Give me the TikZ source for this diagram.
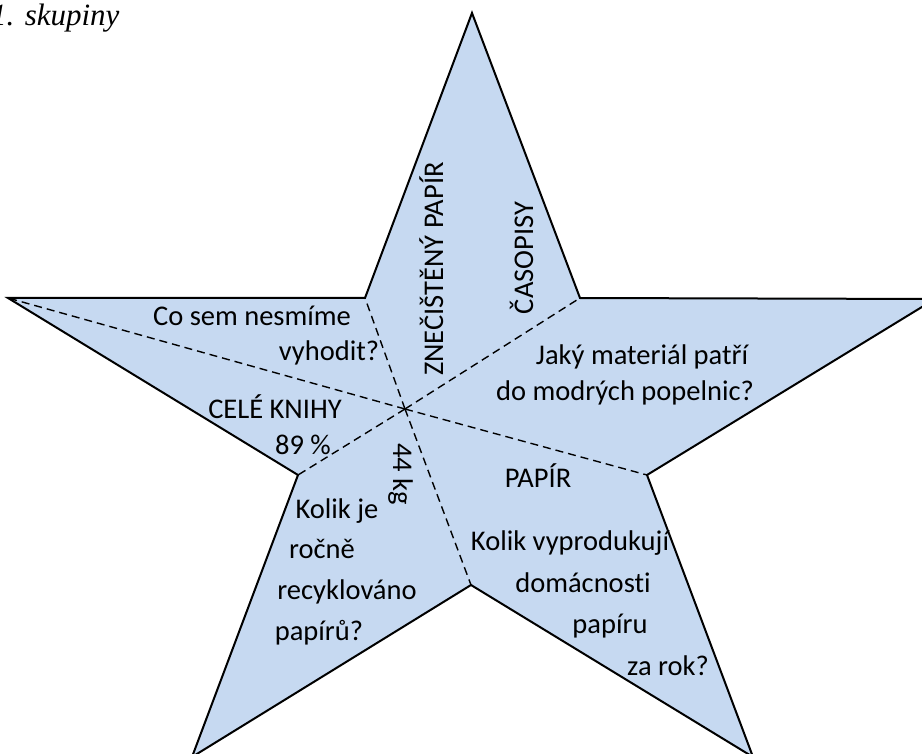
\documentclass[tikz,border=0pt]{standalone}
\usepackage{fontspec}
\setmainfont{Carlito}[Ligatures=NoCommon]
\newfontfamily\titlefont{Liberation Serif}
\usepackage{tikz}
\usepackage{xcolor}
\definecolor{starblue}{HTML}{C6D9F1}
\tikzset{
    star-shape/.style = {draw=black, fill=starblue, line width=2pt},
    star-cut/.style = {draw=black, line width=1.4pt, dash pattern=on 8pt off 5pt},
    star-text/.style = {font=\fontsize{28.5}{30}\selectfont, inner sep=0pt, anchor=base},
    title-text/.style = {font=\titlefont\itshape\fontsize{31}{33}\selectfont, inner sep=0pt, anchor=base west},
}

\begin{document}
\begin{tikzpicture}[x=1pt, y=-1pt]
\useasboundingbox (0,0) rectangle (922,754);
\begin{scope}
\clip (0,0) rectangle (922,754);
% corners of the star
\coordinate (top) at (472,13);
\coordinate (in-ne) at (580,298);
\coordinate (right) at (935,299);
\coordinate (in-e) at (647,475);
\coordinate (low-right) at (753,757);
\coordinate (in-s) at (471,585);
\coordinate (low-left) at (192,757);
\coordinate (in-w) at (298,475);
\coordinate (left) at (8,298);
\coordinate (in-nw) at (365,298);
\coordinate (mid) at (405,409);
\draw[star-shape] (top) -- (in-ne) -- (right) -- (in-e) -- (low-right) -- (in-s)
    -- (low-left) -- (in-w) -- (left) -- (in-nw) -- cycle;
\foreach \c in {left, in-nw, in-ne, in-e, in-s, in-w}
    \draw[star-cut] (mid) -- (\c);
\node[title-text] (title) at (-9,26) {1. skupiny};
\end{scope}

% left arm
\node[star-text] (ask-left) at (252,326) {Co sem nesmíme};
\node[star-text] (ask-left2) at (329,361) {vyhodit?};
\node[star-text] (ans-left) at (275,418) {CELÉ KNIHY};
\node[star-text] (num-left) at (303,454) {89 \%};
% top arm
\node[star-text, rotate=90] (dirty) at (443,269) {ZNEČIŠTĚNÝ PAPÍR};
\node[star-text, rotate=90] (mags) at (533,258) {ČASOPISY};
% right arm
\node[star-text] (ask-right) at (642,364) {Jaký materiál patří};
\node[star-text] (ask-right2) at (625,400) {do modrých popelnic?};
% lower right arm
\node[star-text] (paper) at (538,487) {PAPÍR};
\node[star-text] (ask-home) at (570,550) {Kolik vyprodukují};
\node[star-text] (ask-home2) at (583,592) {domácnosti};
\node[star-text] (ask-home3) at (610,633) {papíru};
\node[star-text] (ask-home4) at (668,675) {za rok?};
% lower left arm
\node[star-text, rotate=-90] (kilos) at (393,474) {44 kg};
\node[star-text] (ask-rec) at (337,518) {Kolik je};
\node[star-text] (ask-rec2) at (322,558) {ročně};
\node[star-text] (ask-rec3) at (347,599) {recyklováno};
\node[star-text] (ask-rec4) at (319,640) {papírů?};
\end{tikzpicture}
\end{document}
